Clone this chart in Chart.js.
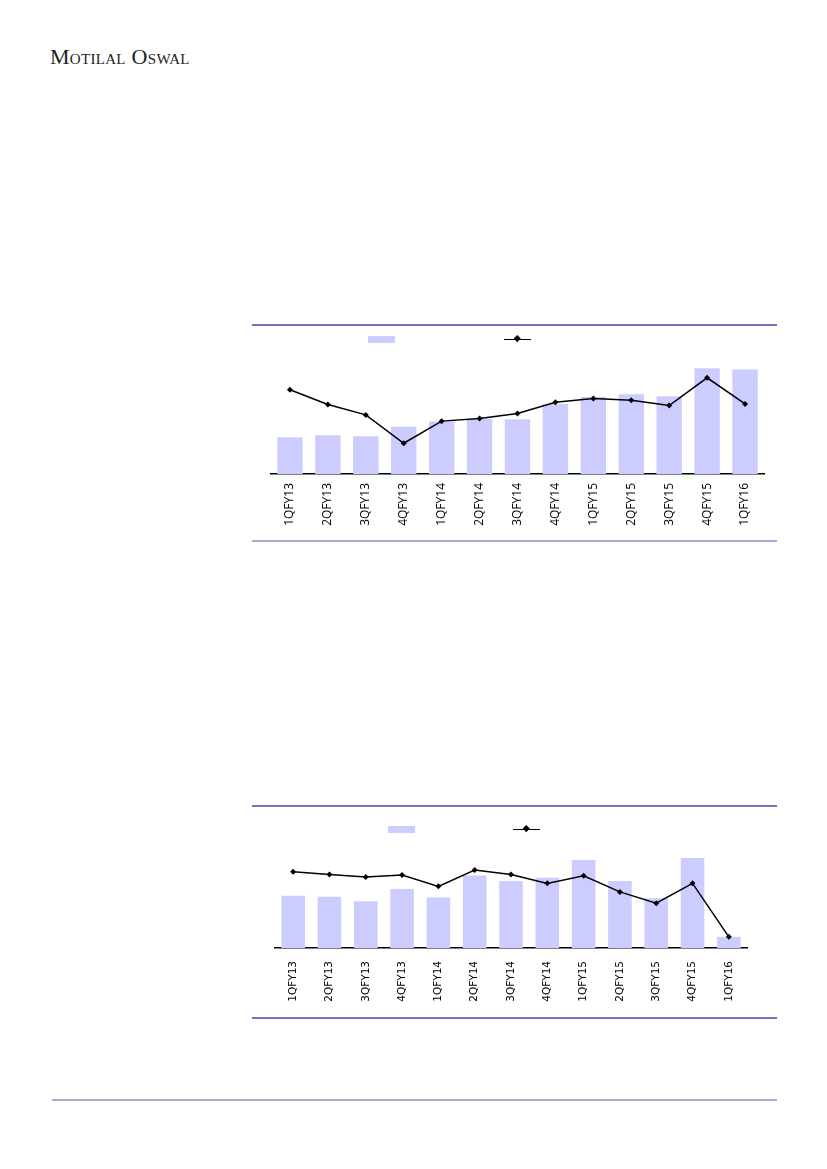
<!DOCTYPE html>
<html>
<head>
<meta charset="utf-8">
<script src="https://cdn.jsdelivr.net/npm/chart.js@4.4.0/dist/chart.umd.min.js"></script>
<style>
   body { margin: 0; background: #fff; }
   .page { position: relative; width: 827px; height: 1169px; overflow: hidden; }
   .logo { position: absolute; left: 50px; top: 44px; font-family: "Liberation Serif", serif; font-size: 22px; font-variant: small-caps; color: #222; letter-spacing: 0.3px; }
   .rule { position: absolute; height: 2px; }
   .box { position: absolute; }
   .swatch { position: absolute; width: 27px; height: 7px; background: #ccccff; }
   .legline { position: absolute; width: 27px; height: 1.5px; background: #000; }
   .legline::after { content: ''; position: absolute; left: 11px; top: -2.2px; width: 4.5px; height: 4.5px; background: #000; transform: rotate(45deg); }
</style>
</head>
<body>
<div class="page">
   <div class="logo">Motilal Oswal</div>

   <div class="rule" style="left:252px; top:324px; width:525px; background:#7b6fc4;"></div>
   <div class="swatch" style="left:368px; top:336px;"></div>
   <div class="legline" style="left:504px; top:338.5px;"></div>
   <div class="box" style="left:252px; top:346px; width:525px; height:194px;"><canvas id="chart1"></canvas></div>
   <div class="rule" style="left:252px; top:540px; width:525px; background:#aba6d8;"></div>

   <div class="rule" style="left:252px; top:805px; width:525px; background:#7b6fc4;"></div>
   <div class="swatch" style="left:388px; top:826px;"></div>
   <div class="legline" style="left:513px; top:828.5px;"></div>
   <div class="box" style="left:252px; top:848px; width:525px; height:166px;"><canvas id="chart2"></canvas></div>
   <div class="rule" style="left:252px; top:1017px; width:525px; background:#7b6fc4;"></div>

   <div class="rule" style="left:52px; top:1099px; width:725px; background:#aba6e0;"></div>
</div>

<script>
const quarters = ['1QFY13', '2QFY13', '3QFY13', '4QFY13', '1QFY14', '2QFY14', '3QFY14',
   '4QFY14', '1QFY15', '2QFY15', '3QFY15', '4QFY15', '1QFY16'];

// chart 1 (no axis values shown in the source, relative units)
const bars1 = [37, 39, 38, 47.6, 53, 55.6, 55.3, 70.6, 77.6, 80.3, 78.3, 106.6, 105.3];
const line1 = [85, 70, 59.6, 31, 53.3, 56, 61, 72.3, 76, 74.3, 69, 97, 70.6];

// chart 2
const bars2 = [52.7, 51.7, 47.3, 59.7, 51, 73.3, 67.7, 71, 89, 67.7, 50.3, 91, 11.3];
const line2 = [77, 74.3, 71.7, 73.7, 62.3, 78.7, 74.3, 65.3, 73, 56.7, 45.3, 65.3, 11.3];

function crearGrafico(id, barras, linea, opts) {
   const ctx = document.getElementById(id).getContext('2d');
   return new Chart(ctx, {
      type: 'bar',
      data: {
         labels: quarters,
         datasets: [{
               type: 'line',
               data: linea,
               borderColor: '#000',
               backgroundColor: '#000',
               borderWidth: 1.5,
               pointStyle: 'rectRot',
               pointRadius: 3,
               pointBackgroundColor: '#000',
               pointBorderWidth: 0,
               tension: 0,
               order: 1
            },
            {
               data: barras,
               backgroundColor: '#ccccff',
               categoryPercentage: 1,
               barPercentage: opts.barPct,
               order: 2
            }
         ]
      },
      options: {
         responsive: true,
         maintainAspectRatio: false,
         animation: false,
         layout: { padding: { left: opts.left, right: opts.right, top: 0, bottom: 0 } },
         plugins: { legend: { display: false }, tooltip: { enabled: false } },
         scales: {
            x: {
               grid: { display: false, drawTicks: false },
               border: { display: true, color: '#000', width: 1.5 },
               ticks: {
                  color: '#000',
                  autoSkip: false,
                  minRotation: 90,
                  maxRotation: 90,
                  padding: opts.tickPad,
                  font: { family: opts.font, size: opts.fontSize }
               },
               afterFit: (scale) => { scale.height = 66; }
            },
            y: {
               display: false,
               min: 0,
               max: opts.max
            }
         }
      }
   });
}

crearGrafico('chart1', bars1, line1, {
   barPct: 0.67, left: 19, right: 13, tickPad: 9, font: '"Open Sans"', fontSize: 12, max: 125
});
crearGrafico('chart2', bars2, line2, {
   barPct: 0.65, left: 23, right: 30, tickPad: 13, font: '"DejaVu Sans"', fontSize: 10.5, max: 97
});
</script>
</body>
</html>
